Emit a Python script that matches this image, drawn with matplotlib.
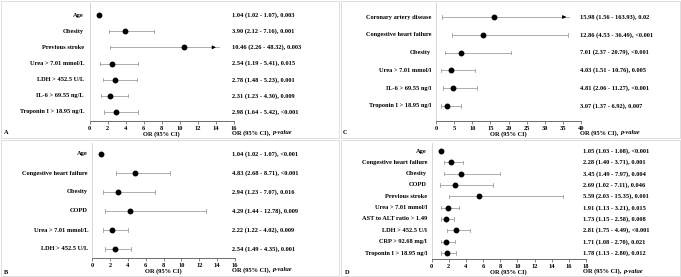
import matplotlib
matplotlib.use("Agg")
import matplotlib.pyplot as plt
from matplotlib.patches import Rectangle
from matplotlib.lines import Line2D

plt.rcParams['font.family'] = ['Liberation Serif', 'DejaVu Serif']
plt.rcParams['font.weight'] = 'bold'

W, H = 681, 277
FS = 4.6

# ---------------- data ----------------
a_labels = ["Age", "Obesity", "Previous stroke", "Urea > 7.01 mmol/L", "LDH > 452.5 U/L",
            "IL-6 > 69.55 ng/L", "Troponin I > 18.95 ng/L"]
a_or = [1.04, 3.90, 10.46, 2.54, 2.78, 2.31, 2.98]
a_lo = [1.02, 2.12, 2.26, 1.19, 1.48, 1.23, 1.64]
a_hi = [1.07, 7.16, 48.32, 5.41, 5.23, 4.30, 5.42]
a_p = ["0.003", "0.001", "0.003", "0.015", "0.001", "0.009", "<0.001"]
a_ticks = [0, 2, 4, 6, 8, 10, 12, 14, 16]

c_labels = ["Coronary artery disease", "Congestive heart failure", "Obesity",
            "Urea > 7.01 mmol/l", "IL-6 > 69.55 ng/l", "Troponin I > 18.95 ng/l"]
c_or = [15.98, 12.86, 7.01, 4.03, 4.81, 3.07]
c_lo = [1.56, 4.53, 2.37, 1.51, 2.06, 1.37]
c_hi = [163.93, 36.49, 20.79, 10.76, 11.27, 6.92]
c_p = ["0.02", "<0.001", "<0.001", "0.005", "<0.001", "0.007"]
c_ticks = [0, 5, 10, 15, 20, 25, 30, 35, 40]

b_labels = ["Age", "Congestive heart failure", "Obesity", "COPD",
            "Urea > 7.01 mmol/L", "LDH > 452.5 U/L"]
b_or = [1.04, 4.83, 2.94, 4.29, 2.22, 2.54]
b_lo = [1.02, 2.68, 1.23, 1.44, 1.22, 1.49]
b_hi = [1.07, 8.71, 7.07, 12.78, 4.02, 4.35]
b_p = ["<0.001", "<0.001", "0.016", "0.009", "0.009", "0.001"]
b_ticks = [0, 2, 4, 6, 8, 10, 12, 14, 16]

d_labels = ["Age", "Congestive heart failure", "Obesity", "COPD", "Previous stroke",
            "Urea > 7.01 mmol/l", "AST to ALT ratio > 1.49", "LDH > 452.5 U/l",
            "CRP > 92.68 mg/l", "Troponin I > 18.95 ng/l"]
d_or = [1.05, 2.28, 3.45, 2.69, 5.59, 1.91, 1.73, 2.81, 1.71, 1.78]
d_lo = [1.03, 1.40, 1.49, 1.02, 2.03, 1.13, 1.15, 1.75, 1.08, 1.13]
d_hi = [1.08, 3.71, 7.97, 7.11, 15.35, 3.21, 2.58, 4.49, 2.70, 2.80]
d_p = ["<0.001", "0.001", "0.004", "0.046", "0.001", "0.015", "0.008", "<0.001", "0.021", "0.012"]
d_ticks = [0, 2, 4, 6, 8, 10, 12, 14, 16, 18]

fig = plt.figure(figsize=(W / 100, H / 100), dpi=100)

# panel borders
for (x0, y0, x1, y1) in [(1, 1, 339, 138), (341, 1, 680, 138), (1, 140, 339, 276), (341, 140, 680, 276)]:
    fig.patches.append(Rectangle((x0 / W, 1 - y1 / H), (x1 - x0) / W, (y1 - y0) / H,
                                 transform=fig.transFigure, fill=False, ec='#d9d9d9', lw=0.6))


def fmt(v):
    return f"{v:.2f}"


def panel(px0, px1, ptop, pbot, row0, rowN, labels, ors, los, his, ps, ticks, arrow_at,
          letter, letter_xy, text_px, label_px):
    n = len(labels)
    ax = fig.add_axes([px0 / W, 1 - pbot / H, (px1 - px0) / W, (pbot - ptop) / H])
    step = (rowN - row0) / (n - 1)
    top = -(row0 - ptop) / step
    bot = (n - 1) + (pbot - rowN) / step
    ax.set_ylim(bot, top)
    xmax = ticks[-1]
    ax.set_xlim(0, xmax)
    ax.patch.set_alpha(0)
    for s in ['top', 'right']:
        ax.spines[s].set_visible(False)
    ax.spines['left'].set_color('#d0d0d0')
    ax.spines['left'].set_linewidth(0.6)
    ax.spines['bottom'].set_color('#555555')
    ax.spines['bottom'].set_linewidth(0.6)
    ax.set_yticks([])
    ax.set_xticks(ticks)
    ax.set_xticklabels([str(t) for t in ticks], fontsize=FS, fontweight='bold')
    ax.tick_params(axis='x', length=2, width=0.5, color='#555555', pad=1.5)
    ax.set_xlabel("OR (95% CI)", fontsize=FS, fontweight='bold', labelpad=0.5)
    for i in range(n):
        lo, hi = los[i], his[i]
        if arrow_at is not None and hi > xmax:
            end = arrow_at
            ax.plot([lo, end], [i, i], color='#a0a0a0', lw=0.6, zorder=1)
            ax.plot([lo, lo], [i - 0.1, i + 0.1], color='#a0a0a0', lw=0.6, zorder=1)
            ax.annotate('', xy=(end, i), xytext=(end - 0.06 * xmax, i),
                        arrowprops=dict(arrowstyle='-|>', color='black', lw=0.6,
                                        mutation_scale=5), zorder=3)
        else:
            cap = 0.1 if n < 9 else 0.15
            ax.plot([lo, hi], [i, i], color='#a0a0a0', lw=0.6, zorder=1)
            ax.plot([lo, lo], [i - cap, i + cap], color='#a0a0a0', lw=0.6, zorder=1)
            ax.plot([hi, hi], [i - cap, i + cap], color='#a0a0a0', lw=0.6, zorder=1)
        ax.plot([ors[i]], [i], 'o', color='black', ms=3.2, zorder=4)
        ax.text(label_px / W, 1 - (row0 + i * step) / H, labels[i], transform=fig.transFigure,
                ha='right', va='center', fontsize=FS, fontweight='bold')
        ax.text(text_px / W, 1 - (row0 + i * step) / H,
                f"{fmt(ors[i])} ({fmt(lo)} - {fmt(hi)}), {ps[i]}", transform=fig.transFigure,
                ha='left', va='center', fontsize=FS, fontweight='bold')
    ax.text(text_px / W, 1 - (pbot + 12) / H, "OR (95% CI), ", transform=fig.transFigure,
            ha='left', va='center', fontsize=FS, fontweight='bold')
    t = ax.text(text_px / W, 1 - (pbot + 12) / H, "", transform=fig.transFigure)
    fig.canvas.draw()
    r = fig.canvas.get_renderer()
    # place "p-value" after "OR (95% CI), "
    tmp = ax.texts[-2]
    bb = tmp.get_window_extent(renderer=r)
    ax.text(bb.x1 / (W), 1 - (pbot + 12) / H, "p-value", transform=fig.transFigure,
            ha='left', va='center', fontsize=FS, fontweight='bold', style='italic')
    fig.text(letter_xy[0] / W, 1 - letter_xy[1] / H, letter, fontsize=FS, fontweight='bold',
             ha='left', va='center')


panel(89.5, 234, 3, 121, 15, 112, a_labels, a_or, a_lo, a_hi, a_p, a_ticks, 14.3,
      "A", (4, 132), 232, 84)
panel(436, 581, 3, 121, 17, 106, c_labels, c_or, c_lo, c_hi, c_p, c_ticks, 36.7,
      "C", (343, 132), 580, 431)
panel(92, 235, 143, 258, 154, 249, b_labels, b_or, b_lo, b_hi, b_p, b_ticks, None,
      "B", (4, 272), 232, 88)
panel(431.5, 586, 143, 259, 151, 253, d_labels, d_or, d_lo, d_hi, d_p, d_ticks, None,
      "D", (345, 272), 583, 427)

fig.savefig("out.png", dpi=100)
